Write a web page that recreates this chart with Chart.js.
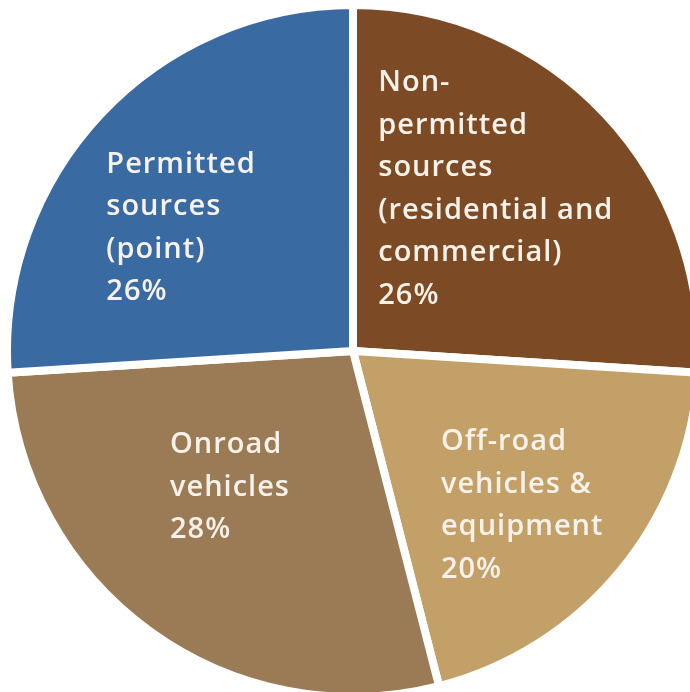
<!DOCTYPE html>
<html>
<head>
<meta charset="utf-8">
<script src="https://cdn.jsdelivr.net/npm/chart.js@4/dist/chart.umd.min.js"></script>
<style>
  html, body { margin: 0; padding: 0; background: #fff; overflow: hidden; width: 690px; height: 692px; }
  #wrap { position: absolute; left: 3px; top: 1px; width: 700px; height: 700px; }
</style>
</head>
<body>
<div id="wrap"><canvas id="emissions-chart"></canvas></div>
<script>
// slices, clockwise from 12 o'clock
var categories = [
	['Non-', 'permitted', 'sources', '(residential and', 'commercial)'],
	['Off-road', 'vehicles &', 'equipment'],
	['Onroad', 'vehicles'],
	['Permitted', 'sources', '(point)']
];
var shares = [26, 20, 28, 26];
var sliceColors = ['#7c4b25', '#c4a069', '#9b7b56', '#3a6aa2'];

// where each label block starts: left edge / first baseline, as a fraction of the radius from the centre
var labelAnchors = [[0.073, -0.751], [0.254, 0.287], [-0.529, 0.295], [-0.713, -0.515]];

var sliceLabels = {
	id: 'sliceLabels',
	afterDatasetsDraw(chart) {
		var ctx = chart.ctx;
		var arcs = chart.getDatasetMeta(0).data;
		ctx.save();
		ctx.fillStyle = '#f6f2ea';
		ctx.font = '600 29px "Open Sans"';
		ctx.letterSpacing = '1px';
		ctx.textAlign = 'left';
		ctx.textBaseline = 'alphabetic';
		arcs.forEach(function (arc, i) {
			var r = arc.outerRadius;
			var x = arc.x + labelAnchors[i][0] * r;
			var y = arc.y + labelAnchors[i][1] * r;
			var lines = categories[i].concat([shares[i] + '%']);
			lines.forEach(function (line, j) {
				ctx.fillText(line, x, y + j * 42.5);
			});
		});
		ctx.restore();
	}
};

new Chart('emissions-chart', {
	type: 'pie',
	data: {
		labels: categories.map(function (c) { return c.join(' '); }),
		datasets: [{
			data: shares,
			backgroundColor: sliceColors,
			borderColor: '#ffffff',
			borderWidth: 8
		}]
	},
	options: {
		responsive: true,
		maintainAspectRatio: false,
		animation: false,
		layout: { padding: 0 },
		plugins: {
			legend: { display: false },
			tooltip: { enabled: false }
		}
	},
	plugins: [sliceLabels]
});
</script>
</body>
</html>
